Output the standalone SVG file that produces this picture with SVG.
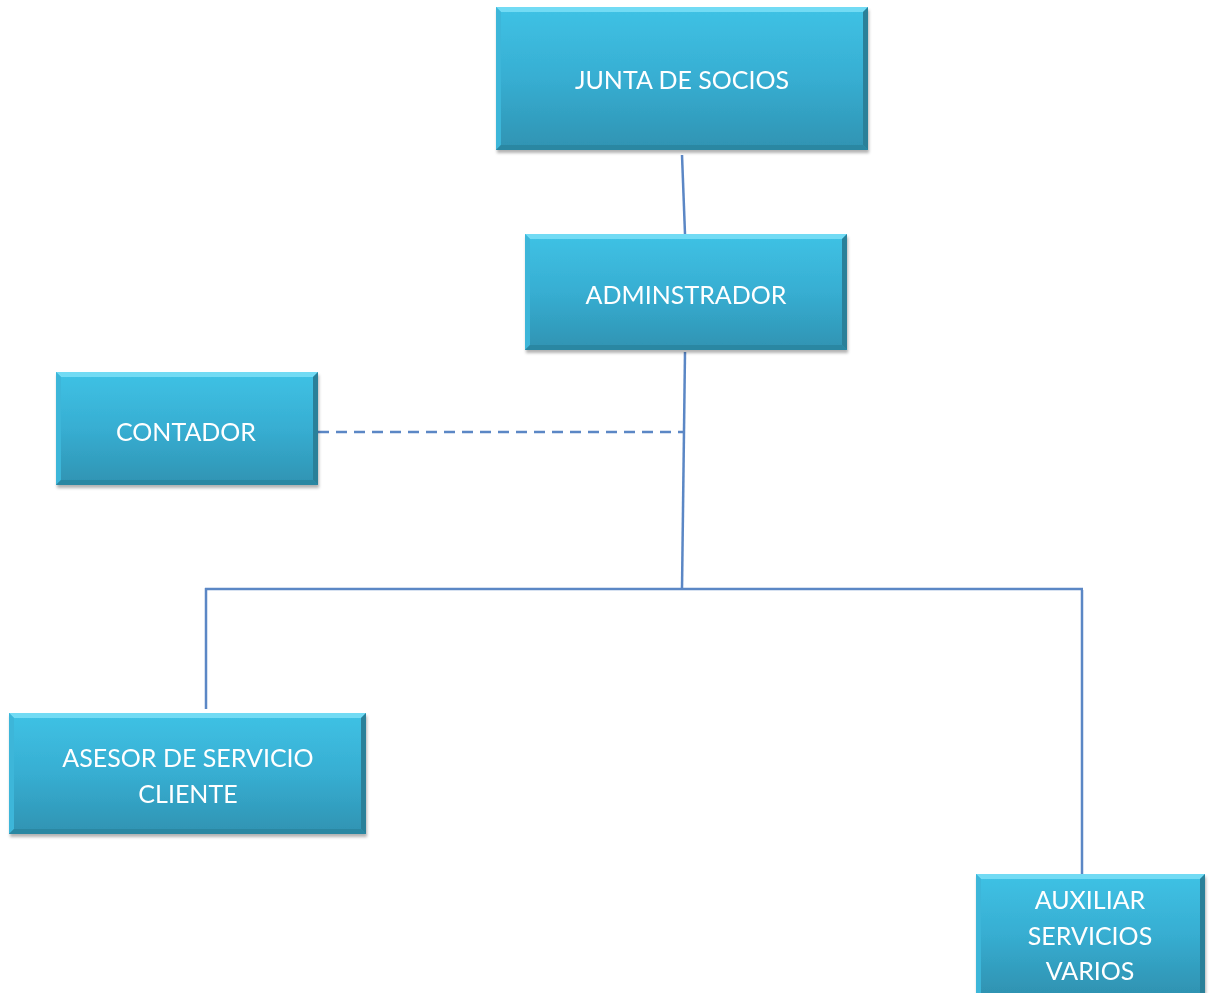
<svg xmlns="http://www.w3.org/2000/svg" width="1213" height="993" viewBox="0 0 1213 993">
  <defs>
    <linearGradient id="face" x1="0" y1="0" x2="0" y2="1">
      <stop offset="0" stop-color="#3fc2e5"/>
      <stop offset="0.5" stop-color="#37aed2"/>
      <stop offset="1" stop-color="#2f93b2"/>
    </linearGradient>
    <filter id="shadow" x="-5%" y="-5%" width="115%" height="120%">
      <feGaussianBlur in="SourceAlpha" stdDeviation="1.5"/>
      <feOffset dx="1" dy="3" result="b"/>
      <feFlood flood-color="#000" flood-opacity="0.3"/>
      <feComposite in2="b" operator="in"/>
      <feMerge><feMergeNode/><feMergeNode in="SourceGraphic"/></feMerge>
    </filter>
  </defs>
  <style>
    .face { fill: url(#face); }
    .top { fill: #72dbf4; }
    .left { fill: #3cb6d9; }
    .right { fill: #2a8099; }
    .bottom { fill: #2c87a2; }
    .lbl { font-family: "Lato", "Open Sans", "Liberation Sans", sans-serif; font-size: 25px; fill: #ffffff; text-anchor: middle; }
    .conn { stroke: #5b87c5; stroke-width: 2.5; fill: none; }
    .dash { stroke-dasharray: 11 7; }
  </style>

  <!-- connectors -->
  <g id="connectors">
    <line class="conn" x1="682" y1="155" x2="685" y2="234"/>
    <line class="conn" x1="685" y1="352" x2="682" y2="589"/>
    <line class="conn" x1="205" y1="589" x2="1083" y2="589"/>
    <line class="conn" x1="206" y1="588" x2="206" y2="709"/>
    <line class="conn" x1="1082" y1="590" x2="1082" y2="874"/>
    <line class="conn dash" x1="318" y1="432" x2="684" y2="432"/>
  </g>

  <!-- bevelled boxes: face, then top/left/right/bottom edges -->
  <g id="junta" filter="url(#shadow)">
    <rect class="face" x="496" y="7" width="372" height="143"/>
    <polygon class="top" points="496,7 868,7 863,12 501,12"/>
    <polygon class="left" points="496,7 501,12 501,145 496,150"/>
    <polygon class="right" points="868,7 868,150 863,145 863,12"/>
    <polygon class="bottom" points="496,150 868,150 863,145 501,145"/>
    <text class="lbl" x="682" y="89">JUNTA DE SOCIOS</text>
  </g>

  <g id="administrador" filter="url(#shadow)">
    <rect class="face" x="525" y="234" width="322" height="116"/>
    <polygon class="top" points="525,234 847,234 842,239 530,239"/>
    <polygon class="left" points="525,234 530,239 530,345 525,350"/>
    <polygon class="right" points="847,234 847,350 842,345 842,239"/>
    <polygon class="bottom" points="525,350 847,350 842,345 530,345"/>
    <text class="lbl" x="686" y="304">ADMINSTRADOR</text>
  </g>

  <g id="contador" filter="url(#shadow)">
    <rect class="face" x="56" y="372" width="262" height="113"/>
    <polygon class="top" points="56,372 318,372 313,377 61,377"/>
    <polygon class="left" points="56,372 61,377 61,480 56,485"/>
    <polygon class="right" points="318,372 318,485 313,480 313,377"/>
    <polygon class="bottom" points="56,485 318,485 313,480 61,480"/>
    <text class="lbl" x="186" y="441">CONTADOR</text>
  </g>

  <g id="asesor" filter="url(#shadow)">
    <rect class="face" x="9" y="713" width="357" height="121"/>
    <polygon class="top" points="9,713 366,713 361,718 14,718"/>
    <polygon class="left" points="9,713 14,718 14,829 9,834"/>
    <polygon class="right" points="366,713 366,834 361,829 361,718"/>
    <polygon class="bottom" points="9,834 366,834 361,829 14,829"/>
    <text class="lbl" x="188" y="767">ASESOR DE SERVICIO</text>
    <text class="lbl" x="188" y="803">CLIENTE</text>
  </g>

  <g id="auxiliar" filter="url(#shadow)">
    <rect class="face" x="976" y="874" width="229" height="119"/>
    <polygon class="top" points="976,874 1205,874 1200,879 981,879"/>
    <polygon class="left" points="976,874 981,879 981,993 976,993"/>
    <polygon class="right" points="1205,874 1205,993 1200,993 1200,879"/>
    <text class="lbl" x="1090" y="909">AUXILIAR</text>
    <text class="lbl" x="1090" y="945">SERVICIOS</text>
    <text class="lbl" x="1090" y="980">VARIOS</text>
  </g>
</svg>
